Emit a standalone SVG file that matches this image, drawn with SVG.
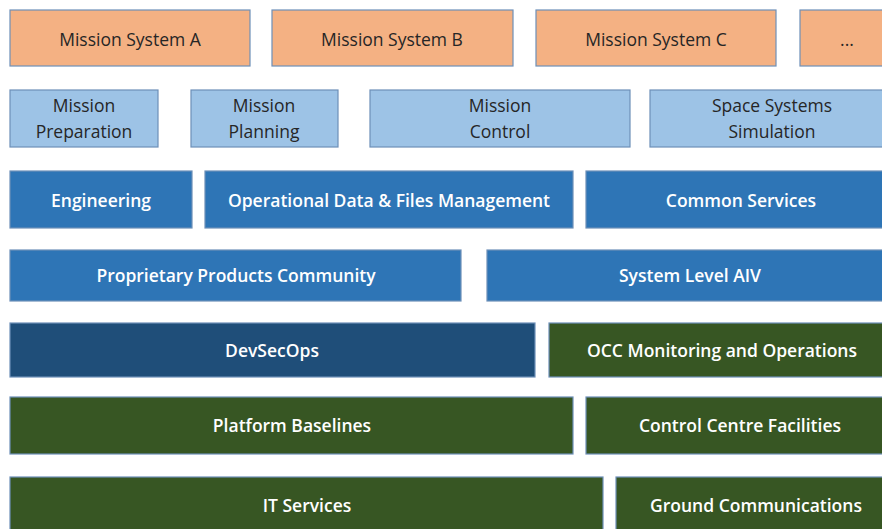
<svg xmlns="http://www.w3.org/2000/svg" width="882" height="529" viewBox="0 0 882 529">
<style>
rect{stroke:#6d8fb8;stroke-width:1.2}
.o{fill:#f4b183}
.lb{fill:#9dc3e6}
.mb{fill:#2e75b6}
.db{fill:#1f4e79}
.g{fill:#375623}
text{font-family:"Open Sans","Liberation Sans",sans-serif;text-anchor:middle;dominant-baseline:central}
.t1{font-size:17.5px;fill:#262626}
.t2{font-size:17.5px;fill:#ffffff;font-weight:600}
</style>
<rect width="882" height="529" fill="#ffffff" style="stroke:none"/>
<g id="ms-a"><rect class="o" x="10" y="10" width="240" height="56"/><text class="t1" x="130" y="39">Mission System A</text></g>
<g id="ms-b"><rect class="o" x="272" y="10" width="241" height="56"/><text class="t1" x="392" y="39">Mission System B</text></g>
<g id="ms-c"><rect class="o" x="536" y="10" width="240" height="56"/><text class="t1" x="656" y="39">Mission System C</text></g>
<g id="ms-more"><rect class="o" x="800" y="10" width="95" height="56"/><text class="t1" x="847" y="39">...</text></g>
<g id="mission-prep"><rect class="lb" x="10" y="90" width="148" height="57"/><text class="t1" x="84" y="105">Mission</text><text class="t1" x="84" y="131">Preparation</text></g>
<g id="mission-plan"><rect class="lb" x="191" y="90" width="147" height="57"/><text class="t1" x="264" y="105">Mission</text><text class="t1" x="264" y="131">Planning</text></g>
<g id="mission-ctrl"><rect class="lb" x="370" y="90" width="260" height="57"/><text class="t1" x="500" y="105">Mission</text><text class="t1" x="500" y="131">Control</text></g>
<g id="space-sim"><rect class="lb" x="650" y="90" width="245" height="57"/><text class="t1" x="772" y="105">Space Systems</text><text class="t1" x="772" y="131">Simulation</text></g>
<g id="engineering"><rect class="mb" x="10" y="171" width="182" height="57"/><text class="t2" x="101" y="200">Engineering</text></g>
<g id="odfm"><rect class="mb" x="205" y="171" width="368" height="57"/><text class="t2" x="389" y="200">Operational Data &amp; Files Management</text></g>
<g id="common"><rect class="mb" x="586" y="171" width="310" height="57"/><text class="t2" x="741" y="200">Common Services</text></g>
<g id="ppc"><rect class="mb" x="10" y="250" width="451" height="51"/><text class="t2" x="236" y="275">Proprietary Products Community</text></g>
<g id="aiv"><rect class="mb" x="487" y="250" width="408" height="51"/><text class="t2" x="690" y="275">System Level AIV</text></g>
<g id="devsecops"><rect class="db" x="10" y="323" width="525" height="54"/><text class="t2" x="272" y="350">DevSecOps</text></g>
<g id="occ"><rect class="g" x="549" y="323" width="346" height="54"/><text class="t2" x="722" y="350">OCC Monitoring and Operations</text></g>
<g id="platform"><rect class="g" x="10" y="397" width="563" height="57"/><text class="t2" x="292" y="425">Platform Baselines</text></g>
<g id="ccf"><rect class="g" x="586" y="397" width="309" height="57"/><text class="t2" x="740" y="425">Control Centre Facilities</text></g>
<g id="it"><rect class="g" x="10" y="477" width="593" height="60"/><text class="t2" x="307" y="505">IT Services</text></g>
<g id="ground"><rect class="g" x="616" y="477" width="280" height="60"/><text class="t2" x="756" y="505">Ground Communications</text></g>
<g id="connectors"/>
</svg>
